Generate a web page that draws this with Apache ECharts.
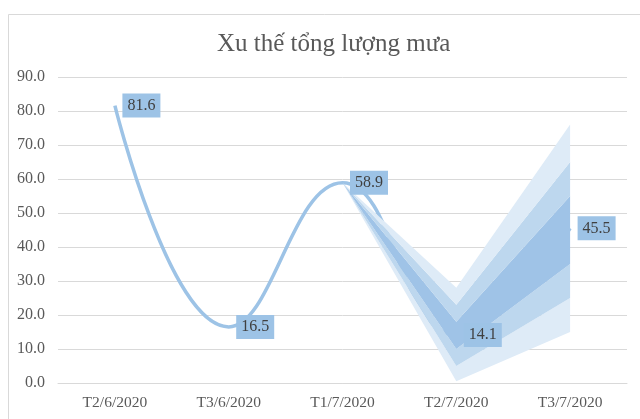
<!DOCTYPE html>
<html>
<head>
<meta charset="utf-8">
<script src="https://cdn.jsdelivr.net/npm/echarts@6/dist/echarts.min.js"></script>
<style>html,body{margin:0;padding:0;background:#fff}#c{width:640px;height:419px}</style>
</head>
<body>
<div id="c"></div>
<script>
var categories = ['T2/6/2020', 'T3/6/2020', 'T1/7/2020', 'T2/7/2020', 'T3/7/2020'];
var rainfall = [81.6, 16.5, 58.9, 14.1, 45.5];
var bandOuterLow  = ['-', '-', 58.9, 0.5, 15];
var bandMidLow    = ['-', '-', 58.9, 5, 25];
var bandInnerLow  = ['-', '-', 58.9, 10, 35];
var bandInnerHigh = ['-', '-', 58.9, 18, 55];
var bandMidHigh   = ['-', '-', 58.9, 23, 65];
var bandOuterHigh = ['-', '-', 58.9, 28, 76];
var yTicks = [0, 10, 20, 30, 40, 50, 60, 70, 80, 90];

function diff(a, b) {
  return a.map(function (v, i) { return v === '-' ? '-' : +(v - b[i]).toFixed(2); });
}
var FONT = '"Liberation Serif", "Times New Roman", serif';
var cLight = '#DEEBF7', cMid = '#BDD7EE', cDark = '#9FC3E7';

function band(name, data, color) {
  return {
    name: name, type: 'line', stack: 'fan', data: data, symbol: 'none', smooth: false,
    lineStyle: { width: 0, opacity: 0 },
    areaStyle: color ? { color: color, opacity: 1 } : { opacity: 0 },
    silent: true, z: 3
  };
}

var chart = echarts.init(document.getElementById('c'), null, { renderer: 'canvas' });
chart.setOption({
  animation: false,
  backgroundColor: '#fff',
  title: {
    text: 'Xu thế tổng lượng mưa', left: 212, top: 27,
    textStyle: { fontFamily: FONT, fontSize: 25, fontWeight: 'normal', color: '#595959' }
  },
  graphic: [{
    type: 'rect', left: 6, top: 12, shape: { width: 700, height: 500 },
    style: { fill: 'none', stroke: '#d9d9d9', lineWidth: 1 }, silent: true, z: -1
  }],
  grid: { left: 58, right: 13, top: 77, bottom: 36 },
  xAxis: {
    type: 'category', data: categories, boundaryGap: true,
    axisLine: { lineStyle: { color: '#d9d9d9' } }, axisTick: { show: false },
    axisLabel: { fontFamily: FONT, fontSize: 15.5, color: '#595959', margin: 12 }
  },
  yAxis: {
    type: 'value', min: yTicks[0], max: yTicks[yTicks.length - 1], interval: 10,
    axisLine: { show: false }, axisTick: { show: false },
    axisLabel: { fontFamily: FONT, fontSize: 16, color: '#595959', margin: 13,
      formatter: function (v) { return v.toFixed(1); } },
    splitLine: { lineStyle: { color: '#d9d9d9', width: 1 } }
  },
  series: [
    {
      name: 'rain', type: 'line', data: rainfall, smooth: 0.45, symbol: 'none', z: 2,
      lineStyle: { color: '#9DC3E6', width: 3.5 }
    },
    band('base', bandOuterLow, null),
    band('l1', diff(bandMidLow, bandOuterLow), cLight),
    band('l2', diff(bandInnerLow, bandMidLow), cMid),
    band('l3', diff(bandInnerHigh, bandInnerLow), cDark),
    band('l4', diff(bandMidHigh, bandInnerHigh), cMid),
    band('l5', diff(bandOuterHigh, bandMidHigh), cLight),
    {
      name: 'rainLabels', type: 'line', data: rainfall, z: 10,
      symbol: 'circle', symbolSize: 1, showSymbol: true,
      itemStyle: { color: 'rgba(0,0,0,0)' },
      lineStyle: { width: 0, opacity: 0 },
      label: {
        show: true, position: 'right', distance: 7,
        fontFamily: FONT, fontSize: 16, color: '#404040',
        backgroundColor: '#9DC3E6', padding: [4, 5, 4, 5],
        formatter: function (p) { return p.value.toFixed(1); }
      }
    }
  ]
});
</script>
</body>
</html>
